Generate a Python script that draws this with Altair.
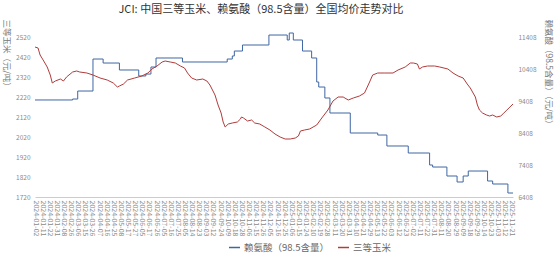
import json
import altair as alt
import pandas as pd

# x-axis category labels (one every 7 trading days); data x = trading-day index
tick_labels = [
    "2024-01-02", "2024-01-11", "2024-01-22", "2024-01-31", "2024-02-08", "2024-02-26",
    "2024-03-06", "2024-03-15", "2024-03-26", "2024-04-07", "2024-04-16", "2024-04-25",
    "2024-05-08", "2024-05-17", "2024-05-27", "2024-06-05", "2024-06-17", "2024-06-26",
    "2024-07-05", "2024-07-16", "2024-07-25", "2024-08-05", "2024-08-14", "2024-08-23",
    "2024-09-03", "2024-09-12", "2024-09-24", "2024-10-09", "2024-10-18", "2024-10-28",
    "2024-11-06", "2024-11-15", "2024-11-26", "2024-12-05", "2024-12-16", "2024-12-25",
    "2025-01-06", "2025-01-15", "2025-01-24", "2025-02-10", "2025-02-19", "2025-02-28",
    "2025-03-11", "2025-03-20", "2025-03-31", "2025-04-10", "2025-04-21", "2025-04-29",
    "2025-05-13", "2025-05-22", "2025-06-03", "2025-06-12", "2025-06-23", "2025-07-02",
    "2025-07-11", "2025-07-22", "2025-07-31", "2025-08-11", "2025-08-20", "2025-08-29",
    "2025-09-09", "2025-09-18", "2025-09-29", "2025-10-14", "2025-10-23", "2025-11-03",
    "2025-11-12", "2025-11-21",
]
tick_index = [i * 7 for i in range(len(tick_labels))]

# 三等玉米 (left axis, 元/吨)
corn_idx = [0, 3, 5, 8, 12, 15, 17, 20, 25, 28, 31, 37, 41, 44, 51, 57, 64, 71, 77, 81,
            83, 87, 91, 98, 105, 111, 115, 120, 125, 128, 133, 138, 143, 147, 150, 154,
            159, 165, 169, 172, 177, 180, 183, 185, 187, 190, 194, 199, 202, 203, 205,
            209, 213, 216, 221, 226, 231, 236, 241, 246, 251, 256, 259, 261, 265, 270,
            277, 282, 288, 293, 298, 303, 308, 313, 319, 324, 329, 332, 337, 344, 352,
            357, 364, 369, 372, 376, 378, 381, 386, 393, 398, 406, 411, 416, 421, 425,
            428, 433, 435, 437, 440, 444, 447, 450, 454, 458, 461, 464, 467, 470]
corn_val = [2470, 2465, 2430, 2405, 2370, 2330, 2290, 2300, 2310, 2300, 2320, 2345, 2350,
            2345, 2340, 2330, 2315, 2305, 2290, 2270, 2275, 2285, 2305, 2315, 2325, 2340,
            2360, 2375, 2395, 2400, 2395, 2390, 2375, 2365, 2340, 2315, 2305, 2310, 2300,
            2280, 2230, 2180, 2140, 2095, 2070, 2085, 2090, 2095, 2110, 2120, 2115, 2100,
            2105, 2090, 2085, 2070, 2055, 2035, 2020, 2010, 2010, 2015, 2025, 2050, 2055,
            2060, 2080, 2115, 2155, 2200, 2220, 2220, 2205, 2215, 2225, 2240, 2295, 2330,
            2340, 2340, 2340, 2355, 2370, 2390, 2390, 2385, 2360, 2370, 2375, 2375, 2370,
            2360, 2340, 2325, 2315, 2285, 2265, 2220, 2180, 2155, 2140, 2130, 2125, 2130,
            2120, 2125, 2140, 2155, 2170, 2185]

# 赖氨酸（98.5含量） (right axis, 元/吨), step changes
lys_idx = [0, 37, 42, 57, 67, 83, 102, 109, 114, 119, 145, 189, 194, 196, 204, 230, 248,
           250, 254, 263, 272, 277, 279, 285, 290, 310, 337, 346, 367, 388, 391, 405, 415,
           421, 426, 445, 450, 465, 470]
lys_val = [9440, 9470, 9720, 10720, 10595, 10377, 10190, 10250, 10470, 10752, 10627, 10720,
           10815, 10970, 11158, 11470, 11314, 11533, 11314, 10970, 10752, 10002, 9845, 9502,
           9033, 8408, 8345, 8002, 7783, 7408, 7345, 7064, 6877, 7064, 7220, 6908, 6814,
           6533, 6533]

corn_ticks = [1720, 1820, 1920, 2020, 2120, 2220, 2320, 2420, 2520]
lys_ticks = [6408, 7408, 8408, 9408, 10408, 11408]

S_LYS = "赖氨酸（98.5含量）"
S_CORN = "三等玉米"
BLUE = "#3f66a3"
RED = "#b03c3c"
FONT = "Noto Sans CJK SC"

corn_df = pd.DataFrame({"idx": corn_idx, "value": corn_val, "series": S_CORN})
lys_df = pd.DataFrame({"idx": lys_idx, "value": lys_val, "series": S_LYS})

label_expr = "%s[round(datum.value / 7)]" % json.dumps(tick_labels, ensure_ascii=False)

x_enc = alt.X(
    "idx:Q",
    scale=alt.Scale(domain=[0, 470], nice=False, zero=False),
    axis=alt.Axis(
        values=tick_index, labelExpr=label_expr, labelAngle=90, labelFontSize=7,
        labelColor="#8a8a8a", labelFont=FONT, labelOverlap=False, labelPadding=3,
        ticks=False, grid=False, domainColor="#cccccc", title=None, labelFlush=False,
    ),
)

color_enc = alt.Color(
    "series:N",
    scale=alt.Scale(domain=[S_LYS, S_CORN], range=[BLUE, RED]),
    legend=alt.Legend(
        orient="none", legendX=193, legendY=204, direction="horizontal", title=None,
        symbolType="stroke", symbolSize=121, symbolStrokeWidth=1.5, labelFontSize=9.5,
        labelColor="#666666", labelFont=FONT, columnPadding=6, symbolOffset=0,
        labelOffset=3,
    ),
)

corn = alt.Chart(corn_df).mark_line(strokeWidth=1.0).encode(
    x=x_enc,
    y=alt.Y(
        "value:Q",
        scale=alt.Scale(domain=[1720, 2520], nice=False, zero=False),
        axis=alt.Axis(
            orient="left", values=corn_ticks, format="d", labelFontSize=6.5,
            labelColor="#8a8a8a", labelFont=FONT, ticks=False, domain=False,
            gridColor="#e3e3e3", labelPadding=5, title="三等玉米（元/吨）", titleFont=FONT,
            titleFontSize=8.5, titleFontWeight="normal", titleColor="#777777",
            titleAngle=90, titleAlign="left", titleBaseline="middle", titleX=-29,
            titleY=-18,
        ),
    ),
    color=color_enc,
)

lys = alt.Chart(lys_df).mark_line(interpolate="step-after", strokeWidth=1.0).encode(
    x=x_enc,
    y=alt.Y(
        "value:Q",
        scale=alt.Scale(domain=[6408, 11408], nice=False, zero=False),
        axis=alt.Axis(
            orient="right", values=lys_ticks, format="d", labelFontSize=6.5,
            labelColor="#8a8a8a", labelFont=FONT, ticks=False, domain=False, grid=False,
            labelPadding=5, title="赖氨酸（98.5含量）（元/吨）", titleFont=FONT,
            titleFontSize=8.5, titleFontWeight="normal", titleColor="#777777",
            titleAngle=90, titleAlign="left", titleBaseline="middle", titleX=35,
            titleY=-18,
        ),
    ),
    color=color_enc,
)

chart = (
    alt.layer(lys, corn)
    .resolve_scale(y="independent")
    .properties(
        width=478, height=160,
        title=alt.TitleParams(
            "JCI: 中国三等玉米、赖氨酸（98.5含量）全国均价走势对比",
            font=FONT, fontSize=11, fontWeight="normal", color="#333333",
            anchor="middle", offset=4, dx=-13,
        ),
        autosize=alt.AutoSizeParams(type="none"),
        padding={"left": 35, "top": 37, "right": 41, "bottom": 58},
        background="white",
    )
    .configure_view(stroke=None)
)

chart.save("out.html", embed_options={"renderer": "svg", "actions": False})
